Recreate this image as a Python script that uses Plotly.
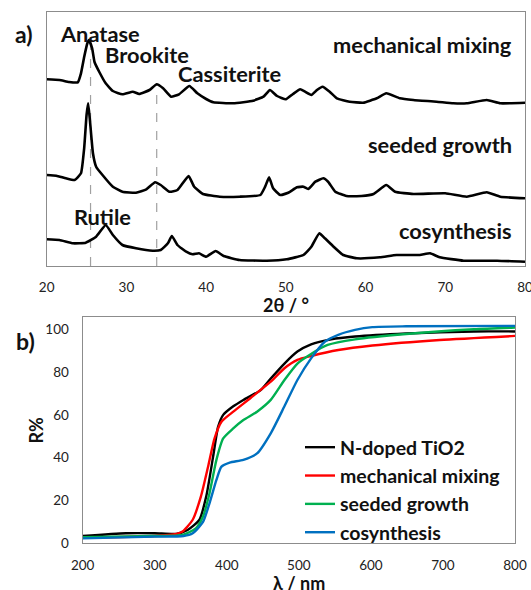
import plotly.graph_objects as go

# ---------------- XRD data (a): intensity in arbitrary units ----------------
mm_2theta = [20, 21.6, 22.8, 23.9, 24.3, 24.7, 25.1, 25.3, 25.7, 26.0, 26.6, 27.4, 28.3, 29.5, 30.8, 31.6, 32.9, 33.8, 34.6, 35.6, 36.6, 37.9, 38.9, 40.0, 40.9, 43.4, 45.9, 47.2, 48.0, 48.9, 50.0, 50.9, 51.8, 52.4, 53.2, 53.9, 54.6, 55.5, 56.4, 58.0, 59.7, 61.4, 62.6, 64.3, 66.0, 68.9, 71.0, 72.7, 75.2, 76.9, 80]
mm_int = [190.7, 190, 188, 187.7, 196.7, 213, 226.7, 230, 221.7, 208, 198, 186.7, 179, 175.7, 178.3, 176, 180, 185.7, 181.7, 173.3, 175.7, 184, 176.7, 171, 167.7, 166.7, 169.3, 173.3, 180, 174, 170.7, 176, 180.7, 178.3, 175, 180, 183.3, 178.3, 171.7, 168.3, 167.3, 171.7, 176.7, 171.7, 170, 168.3, 166.7, 166.7, 170, 166.7, 167.3]

sg_2theta = [20, 21.2, 22.4, 23.5, 24.3, 24.7, 25.0, 25.2, 25.4, 25.8, 26.2, 27.0, 28.3, 29.5, 31.2, 32.5, 33.6, 34.3, 35.4, 36.4, 37.8, 38.5, 39.6, 41.7, 44.2, 46.8, 47.4, 47.9, 48.4, 49.3, 50.3, 51.4, 52.2, 52.8, 53.7, 54.7, 55.3, 56.2, 57.6, 59.5, 61.0, 62.6, 63.7, 66.0, 70.0, 72.7, 75.2, 76.9, 80]
sg_int = [95, 94.3, 91.7, 90, 96.7, 121.7, 155, 166.7, 151.7, 116.7, 103.3, 95, 83.3, 78.3, 77.3, 80.7, 87.7, 85, 78.3, 80, 94, 83.3, 76, 73.3, 73.3, 75, 83.3, 92.7, 81.7, 75, 77.3, 82.7, 83.3, 81, 88.3, 91.7, 88.3, 78.3, 74, 74, 76, 85, 78.3, 76, 76.7, 73.3, 77.7, 73.3, 71.7]

cs_2theta = [20, 21.6, 23.3, 24.9, 26.2, 27.4, 28.3, 29.5, 31.2, 33.3, 34.3, 35.2, 35.7, 36.4, 37.5, 38.3, 39.1, 40.0, 41.2, 42.2, 44.2, 47.6, 50.1, 52.2, 53.2, 54.2, 54.9, 56.0, 57.2, 58.9, 61.8, 63.9, 66.8, 68.1, 69.3, 72.3, 76.5, 80]
cs_int = [30.7, 30, 26.7, 27.3, 33.3, 45, 35, 25, 21.7, 19.3, 20, 26.7, 34, 25, 18.3, 15.7, 16.7, 13.3, 19, 14, 10, 9.3, 10.7, 15, 23.3, 36.7, 31.7, 23.3, 15, 11.7, 12.7, 15, 15, 16.7, 12.7, 9.3, 9.3, 8.3]

xrd_ticks = [20, 30, 40, 50, 60, 70, 80]
phase_lines = [25.5, 33.8]
phase_line_tops = [229, 185]

# ---------------- Reflectance data (b) ----------------
nd_wl = [200, 260, 300, 330, 345.6, 362, 371.5, 381, 388, 395, 409, 423, 447, 461, 480, 498, 517, 545, 578, 649, 743, 800]
nd_R = [3.4, 4.7, 4.7, 4.4, 6.2, 11, 22, 40.5, 54.5, 60, 64, 67, 71.6, 77, 84, 89.6, 93, 95.3, 96.6, 98, 99, 99]

mm_wl = [200, 300, 330, 338.6, 352.7, 364, 374, 383, 392.6, 409, 432.6, 461, 480, 498, 517, 554.7, 602, 695.6, 800]
mm_R = [2.6, 3.4, 4.4, 5.5, 11, 21.8, 35.8, 49, 56.8, 61.5, 67.8, 75.5, 81.8, 85.7, 87.5, 90.3, 92.4, 95, 96.9]

sg_wl = [200, 300, 338.6, 357, 367, 376, 385.6, 395, 409, 423, 442, 461, 480, 498, 517, 540, 578, 649, 743, 800]
sg_R = [2.8, 3.4, 3.9, 7, 12.5, 23.4, 39, 49, 53.7, 57.6, 61.5, 67, 76.3, 84, 88.5, 92.7, 95.3, 97.8, 100, 100.8]

cs_wl = [200, 300, 340, 352.7, 367, 376, 385.6, 392.6, 404, 423, 442, 461, 480, 498, 517, 536, 554.7, 578, 602, 649, 800]
cs_R = [2.3, 3.1, 3.4, 4.7, 10, 18.7, 29.6, 35.8, 37.7, 39, 42, 51.4, 64, 76.3, 86.4, 94.2, 97.4, 99.7, 101, 101.4, 101.6]

refl_names = ["N-doped TiO2", "mechanical mixing", "seeded growth", "cosynthesis"]
refl_colors = ["#000000", "#FF0000", "#00B050", "#0070C0"]

FONT = "Lato"
W, H = 531, 590
TXT = "#111111"

fig = go.Figure()

for xs, ys in [(mm_2theta, mm_int), (sg_2theta, sg_int), (cs_2theta, cs_int)]:
    fig.add_trace(go.Scatter(x=xs, y=ys, mode="lines",
                             line=dict(color="black", width=2.6, shape="spline", smoothing=0.4),
                             xaxis="x", yaxis="y", showlegend=False, hoverinfo="skip"))

for xs, ys, n, c in zip([nd_wl, mm_wl, sg_wl, cs_wl], [nd_R, mm_R, sg_R, cs_R], refl_names, refl_colors):
    fig.add_trace(go.Scatter(x=xs, y=ys, mode="lines", name=n,
                             line=dict(color=c, width=2.4, shape="spline", smoothing=0.6),
                             xaxis="x2", yaxis="y2"))

axis_common = dict(showline=True, mirror=True, linecolor="#8c8c8c", linewidth=1.3,
                   showgrid=False, zeroline=False, ticks="", automargin=False,
                   tickfont=dict(family=FONT, size=13.5, color="#222"))

fig.update_layout(
    width=W, height=H,
    margin=dict(l=0, r=0, t=0, b=0),
    paper_bgcolor="white", plot_bgcolor="white",
    xaxis=dict(domain=[46.7/W, 525/W], range=[20, 80], tickvals=xrd_ticks,
               ticklabelstandoff=9, ticklabeloverflow="allow", anchor="y", **axis_common),
    yaxis=dict(domain=[1-266/H, 1-12.3/H], range=[4, 257.7], showticklabels=False, anchor="x",
               **{k: v for k, v in axis_common.items() if k != "tickfont"}),
    xaxis2=dict(domain=[82.7/W, 515/W], range=[200, 800], dtick=100,
                ticklabelstandoff=9, ticklabeloverflow="allow", anchor="y2", **axis_common),
    yaxis2=dict(domain=[1-543.3/H, 1-317.3/H], range=[0, 105.6], tickvals=[0, 20, 40, 60, 80, 100],
                ticklabelstandoff=10, anchor="x2", **axis_common),
    legend=dict(x=300/W, y=1-428/H, xanchor="left", yanchor="top", bgcolor="rgba(0,0,0,0)",
                font=dict(family=FONT, size=19.5, color=TXT, weight="bold"), tracegroupgap=0,
                itemwidth=30),
    showlegend=True,
)

for xv, ytop in zip(phase_lines, phase_line_tops):
    fig.add_shape(type="line", xref="x", yref="y", x0=xv, x1=xv, y0=4, y1=ytop,
                  line=dict(color="#a0a0a0", width=1.2, dash="dash"), layer="below")

def ann(text, x, y, xanchor="center", size=21.8, angle=0):
    fig.add_annotation(text=f"<b>{text}</b>", xref="paper", yref="paper", x=x/W, y=1-y/H,
                       xanchor=xanchor, yanchor="middle", showarrow=False, textangle=angle,
                       font=dict(family=FONT, size=size, color=TXT))

ann("Anatase", 100, 33)
ann("Brookite", 146.6, 55)
ann("Cassiterite", 229, 73)
ann("Rutile", 102, 217)
ann("mechanical mixing", 514, 44, xanchor="right")
ann("seeded growth", 514, 144, xanchor="right")
ann("cosynthesis", 514, 231, xanchor="right")
ann("a)", 23.7, 34, size=23)
ann("b)", 25, 341, size=23)
ann("2θ / °", 286, 305, size=18)
ann("λ / nm", 299, 583, size=18)
ann("R%", 35.6, 430, size=18, angle=-90)

fig.write_html("out.html", config={"displayModeBar": False},
               post_script="document.body.style.margin='0px';document.body.style.overflow='hidden';")
